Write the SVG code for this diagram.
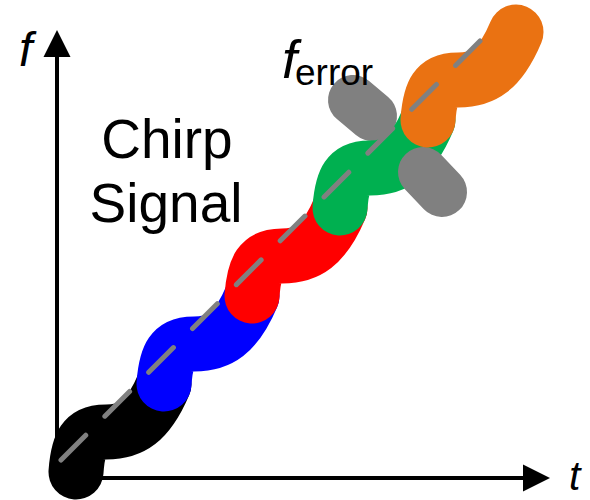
<svg xmlns="http://www.w3.org/2000/svg" xmlns:xlink="http://www.w3.org/1999/xlink" width="590" height="500" viewBox="0 0 590 500">
<style>
.seg{fill:none;stroke-width:55;stroke-linecap:round;stroke-linejoin:round}
.err{fill:none;stroke:#808080;stroke-width:50;stroke-linecap:round}
.axis{fill:none;stroke:#000;stroke-width:4}
.lbl{font-family:"Liberation Sans",Arial,sans-serif;fill:#000}
.it{font-style:italic}
</style>
<defs>
<path id="seg" d="M0,0 C2,-28 8,-40 30,-40 C55,-40 72,-50 88,-88"/>
</defs>
<rect width="590" height="500" fill="#fff"/>
<g id="axes">
<line class="axis" x1="57" y1="480" x2="57" y2="55"/>
<polygon points="57,30 43.5,57 70.5,57" fill="#000"/>
<line class="axis" x1="55" y1="478" x2="525" y2="478"/>
<polygon points="550,478 523,464.5 523,491.5" fill="#000"/>
</g>
<g id="error-upper"><line class="err" x1="353" y1="100" x2="372" y2="116"/></g>
<g id="chirp-black"><use xlink:href="#seg" class="seg" stroke="#000000" transform="translate(76,472)"/></g>
<g id="chirp-blue"><use xlink:href="#seg" class="seg" stroke="#0000FF" transform="translate(164,384)"/></g>
<g id="chirp-red"><use xlink:href="#seg" class="seg" stroke="#FF0000" transform="translate(252,296)"/></g>
<g id="chirp-green"><use xlink:href="#seg" class="seg" stroke="#00B050" transform="translate(340,208)"/></g>
<g id="error-lower"><line class="err" x1="423" y1="172" x2="442" y2="192"/></g>
<g id="chirp-orange"><use xlink:href="#seg" class="seg" stroke="#EA7212" transform="translate(428,120)"/></g>
<g id="connectors">
<line x1="61" y1="460" x2="480" y2="41" stroke="#808080" stroke-width="5" stroke-linecap="round" stroke-dasharray="35 27"/>
</g>
<g id="labels">
<text class="lbl it" x="569" y="490" font-size="41">t</text>
<text class="lbl it" x="19" y="66" font-size="48">f</text>
<text class="lbl" x="167" y="158" font-size="55" text-anchor="middle">Chirp</text>
<text class="lbl" x="166" y="222" font-size="55" text-anchor="middle">Signal</text>
<text class="lbl" x="282" y="78"><tspan class="it" font-size="54">f</tspan><tspan x="295" y="85" font-size="37">error</tspan></text>
</g>
</svg>
